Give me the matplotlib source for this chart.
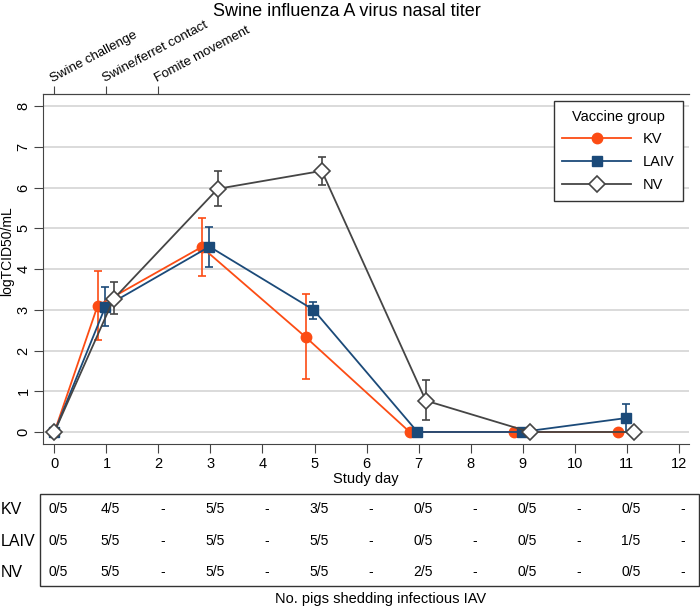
import numpy as np
import matplotlib
matplotlib.use('Agg')
import matplotlib.pyplot as plt
from matplotlib.patches import Rectangle
from matplotlib.transforms import blended_transform_factory

plt.rcParams['font.family'] = ['Liberation Sans', 'DejaVu Sans']

# data
days = [0, 1, 3, 5, 7, 9, 11]
kv_mean = [0, 3.10, 4.54, 2.33, 0, 0, 0]
kv_lo = [0, 2.26, 3.83, 1.31, 0, 0, 0]
kv_hi = [0, 3.94, 5.25, 3.38, 0, 0, 0]
laiv_mean = [0, 3.08, 4.55, 3.00, 0, 0, 0.34]
laiv_lo = [0, 2.60, 4.06, 2.77, 0, 0, 0.0]
laiv_hi = [0, 3.57, 5.04, 3.20, 0, 0, 0.68]
nv_mean = [0, 3.27, 5.97, 6.41, 0.77, 0, 0]
nv_lo = [0, 2.89, 5.54, 6.07, 0.29, 0, 0]
nv_hi = [0, 3.69, 6.40, 6.74, 1.28, 0, 0]

events = ['Swine challenge', 'Swine/ferret contact', 'Fomite movement']
event_days = [0, 1, 2]

table_days = list(range(13))
kv_shed = ['0/5', '4/5', '-', '5/5', '-', '3/5', '-', '0/5', '-', '0/5', '-', '0/5', '-']
laiv_shed = ['0/5', '5/5', '-', '5/5', '-', '5/5', '-', '0/5', '-', '0/5', '-', '1/5', '-']
nv_shed = ['0/5', '5/5', '-', '5/5', '-', '5/5', '-', '2/5', '-', '0/5', '-', '0/5', '-']

groups = [
    ('KV', kv_mean, kv_lo, kv_hi, kv_shed, '#fc4c14', 'o', -0.17),
    ('LAIV', laiv_mean, laiv_lo, laiv_hi, laiv_shed, '#1b4a79', 's', -0.02),
    ('NV', nv_mean, nv_lo, nv_hi, nv_shed, '#454545', 'D', 0.14),
]

W, H = 700, 608
fig = plt.figure(figsize=(7, 6.08), dpi=100)
ax = fig.add_axes([43 / W, 1 - 444 / H, (689 - 43) / W, (444 - 94.3) / H])

for name, m, lo, hi, shed, col, mk, off in groups:
    x = np.array(days, dtype=float) + off
    x[0] = 0
    m = np.array(m); lo = np.array(lo); hi = np.array(hi)
    keep = hi > lo
    ax.errorbar(x[keep], m[keep], yerr=[m[keep] - lo[keep], hi[keep] - m[keep]],
                fmt='none', ecolor=col, elinewidth=1.2, capsize=3, capthick=1.2, zorder=3)
    if mk == 'D':
        ax.plot(x, m, color=col, lw=1.3, marker=mk, ms=8, mfc='white', mec=col,
                mew=1.2, label=name, zorder=5)
    else:
        ax.plot(x, m, color=col, lw=1.3, marker=mk, ms=7.5, mfc=col, mec=col,
                label=name, zorder=4)

ax.set_xlim(-0.22, 12.2)
ax.set_ylim(-0.295, 8.29)
ax.set_xticks(range(13))
ax.set_yticks(range(9))
ax.grid(axis='y', color='#d4d4d4', lw=1.2)
ax.set_axisbelow(True)
ax.spines['right'].set_visible(False)
for s in ['left', 'bottom', 'top']:
    ax.spines[s].set_color('#444444')
ax.tick_params(axis='both', direction='out', length=6.5, color='#444444', labelsize=10.5)
ax.tick_params(axis='x', pad=3)
ax.tick_params(axis='y', labelrotation=90, pad=2.5)
for lab in ax.get_yticklabels():
    lab.set_va('center')

top = ax.secondary_xaxis('top')
top.set_xticks(event_days)
top.set_xticklabels(events, rotation=28, ha='left', rotation_mode='anchor', fontsize=9.5)
top.tick_params(direction='out', length=6, color='#444444', pad=1)
top.spines['top'].set_color('#444444')

leg = ax.legend(title='Vaccine group', loc='upper right', bbox_to_anchor=(0.991, 0.981),
                borderaxespad=0, fontsize=10.5, title_fontsize=10.5, handlelength=4.7,
                fancybox=False, edgecolor='#333333', framealpha=1, labelspacing=0.6,
                borderpad=0.6)
leg.get_frame().set_linewidth(1.0)

fig.text(347 / W, 1 - 11 / H, 'Swine influenza A virus nasal titer', ha='center', va='center',
         fontsize=13)
fig.text(366 / W, 1 - 479.5 / H, 'Study day', ha='center', va='center', fontsize=10.5)
fig.text(7 / W, 1 - 251 / H, 'logTCID50/mL', rotation=90, ha='center', va='center', fontsize=10)

# shedding table under the axis
fig.add_artist(Rectangle((40 / W, 1 - 585.7 / H), (699 - 40) / W, (585.7 - 494) / H,
                         transform=fig.transFigure, fill=False, ec='#333333', lw=1.0))
tr = blended_transform_factory(ax.transData, fig.transFigure)
row_y = [509, 541, 572.5]
for (name, m, lo, hi, shed, col, mk, off), ry in zip(groups, row_y):
    fig.text(0.5 / W, 1 - ry / H, name, ha='left', va='center', fontsize=11.5)
    for d, s in zip(table_days, shed):
        fig.text(d + 0.08, 1 - ry / H, s, transform=tr, ha='center', va='center', fontsize=10)
fig.text(381 / W, 1 - 598.5 / H, 'No. pigs shedding infectious IAV', ha='center', va='center',
         fontsize=10.5)

fig.savefig('out.png', dpi=100)
